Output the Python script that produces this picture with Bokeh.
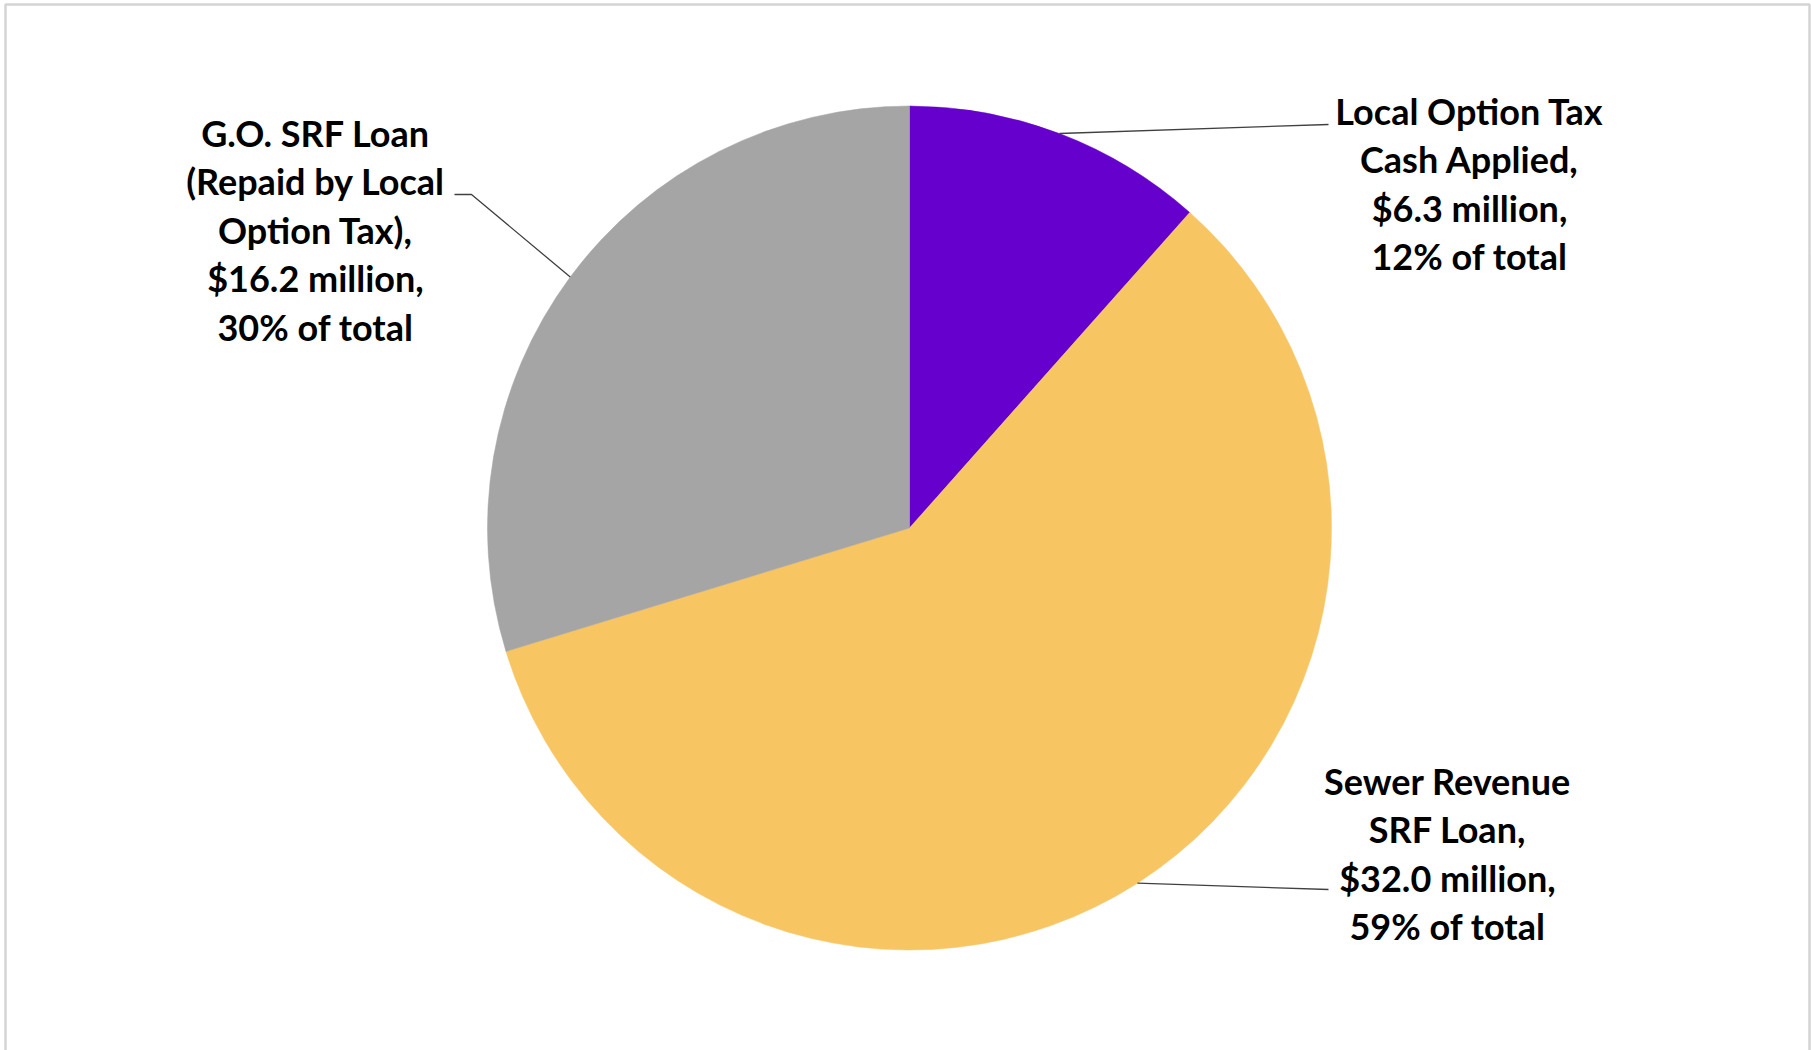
import math
from bokeh.plotting import figure
from bokeh.models import Range1d, BoxAnnotation, ColumnDataSource
from bokeh.core.properties import value
from bokeh.embed import file_html
from bokeh.resources import INLINE

# ---- data ----
names = [["Local Option Tax", "Cash Applied,"],
         ["Sewer Revenue", "SRF Loan,"],
         ["G.O. SRF Loan", "(Repaid by Local", "Option Tax),"]]
amounts = [6.3, 32.0, 16.2]          # $ million
colors = ["#6600CC", "#F8C563", "#A5A5A5"]

W, H = 1811, 1050
p = figure(width=W, height=H, output_backend="svg", toolbar_location=None,
           x_range=Range1d(0, W), y_range=Range1d(0, H), min_border=0)
p.axis.visible = False
p.grid.visible = False
p.outline_line_color = None
p.background_fill_color = "white"
p.border_fill_color = "white"

# outer chart border
p.add_layout(BoxAnnotation(left=5, right=1809, top=H - 4, bottom=-20,
                           fill_alpha=0, line_color="#707070", line_width=2.5))

cx, cy, r = 909, H - 527.5, 422
total = sum(amounts)
fr = [a / total for a in amounts]
cum = [0]
for f in fr:
    cum.append(cum[-1] + f)
starts = [math.pi / 2 - 2 * math.pi * cum[i] for i in range(3)]
ends = [math.pi / 2 - 2 * math.pi * cum[i + 1] for i in range(3)]
src = ColumnDataSource(dict(start=starts, end=ends, color=colors))
p.wedge(x=cx, y=cy, radius=r, start_angle="start", end_angle="end",
        direction="clock", fill_color="color", line_color="color", line_width=0.5,
        source=src)

# label layout (pixel positions from top-left)
label_cx = [1469, 1447, 315]
label_top = [110, 780, 132]
line_gap = 48.5
# leader anchor points: list of points from label side to pie
leader_label_pts = [[(1328, 124)], [(1328, 889)], [(454, 194), (471, 194)]]

for i in range(3):
    lines = names[i] + [f"${amounts[i]:.1f} million,", f"{round(fr[i] * 100)}% of total"]
    ys = [H - (label_top[i] + k * line_gap) for k in range(len(lines))]
    p.text(x=[label_cx[i]] * len(lines), y=ys, text=lines,
           text_font=value("Lato"), text_font_style="bold",
           text_font_size="36px", text_align="center", text_baseline="middle",
           text_color="#000000")
    mid = (cum[i] + cum[i + 1]) / 2 * 2 * math.pi
    px = cx + r * math.sin(mid)
    py = cy + r * math.cos(mid)
    pts = [(x, H - y) for x, y in leader_label_pts[i]] + [(px, py)]
    p.line(x=[q[0] for q in pts], y=[q[1] for q in pts], line_color="#404040", line_width=1.3)

open("out.html", "w").write(file_html(p, INLINE))
